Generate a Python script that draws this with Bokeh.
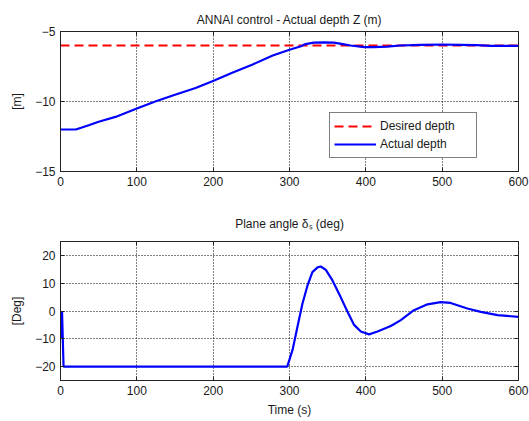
from bokeh.plotting import figure
from bokeh.layouts import column
from bokeh.models import Range1d, FixedTicker, Legend, LegendItem, LinearAxis
from bokeh.embed import file_html
from bokeh.resources import INLINE

# ---- data ----
t_depth = [0, 20, 37, 50, 72, 100, 125, 151, 177, 199, 225, 251, 278, 300, 315, 321, 332,
           345, 358, 370, 380, 398, 410, 428, 445, 472, 500, 524, 545, 564, 600]
z_actual = [-12.0, -12.0, -11.7, -11.45, -11.1, -10.5, -9.98, -9.5, -9.03, -8.55, -7.95, -7.37,
            -6.72, -6.3, -6.05, -5.9, -5.79, -5.77, -5.8, -5.9, -6.0, -6.12, -6.12, -6.08, -6.0,
            -5.95, -5.93, -5.95, -5.98, -6.02, -6.02]
t_desired = [0, 600]
z_desired = [-6.0, -6.0]

t_angle = [0, 1, 2, 4, 100, 200, 297, 304, 310.5, 317, 323.6, 330, 336.7, 341, 347.6, 356.3,
           367, 376, 384.6, 393.4, 404.3, 415.3, 432.7, 445.8, 463, 480.8, 498, 511, 533,
           550.6, 572.5, 600]
d_angle = [0, -10, 0, -20, -20, -20, -20, -14, -5.6, 2.7, 9.2, 14, 15.7, 16, 14.8, 11,
           5, -0.3, -5, -7.4, -8.4, -7.4, -5.4, -3.3, 0.3, 2.4, 3.2, 2.9, 0.9,
           -0.3, -1.5, -2.1]

x_ticks = [0, 100, 200, 300, 400, 500, 600]
y_ticks_top = [-15, -10, -5]
y_ticks_bot = [-20, -10, 0, 10, 20]

FONT = "Liberation Sans"
TXT = "#1a1a1a"
EDGE = "#222222"


def style_axis(ax, labels=True):
    ax.major_tick_in = 4
    ax.major_tick_out = 0
    ax.minor_tick_line_color = None
    ax.axis_line_color = EDGE
    ax.major_tick_line_color = EDGE
    ax.major_label_text_font = FONT
    ax.axis_label_text_font = FONT
    ax.axis_label_text_font_size = "12px"
    ax.axis_label_text_font_style = "normal"
    ax.axis_label_text_color = TXT
    if labels:
        ax.major_label_text_font_size = "12px"
        ax.major_label_text_color = TXT
        ax.major_label_standoff = 5
    else:
        ax.major_label_text_font_size = "1px"
        ax.major_label_text_color = None
        ax.major_label_standoff = 0


def style(p, yticks):
    p.background_fill_color = "white"
    p.border_fill_color = "white"
    p.outline_line_color = EDGE
    p.outline_line_width = 1
    bottom = p.below[0]
    left = p.left[0]
    style_axis(bottom)
    style_axis(left)
    bottom.ticker = FixedTicker(ticks=x_ticks)
    left.ticker = FixedTicker(ticks=yticks)
    left.axis_label_standoff = 8
    top = LinearAxis(ticker=FixedTicker(ticks=x_ticks))
    style_axis(top, labels=False)
    right = LinearAxis(ticker=FixedTicker(ticks=yticks))
    style_axis(right, labels=False)
    p.add_layout(top, "above")
    p.add_layout(right, "right")
    for g in (p.xgrid, p.ygrid):
        g.grid_line_color = "black"
        g.grid_line_dash = "1 2"
        g.grid_line_width = 1
        g.grid_line_alpha = 1.0
    return bottom, left


def style_title(p, text, standoff):
    p.title.text = text
    p.title.align = "center"
    p.title.text_font = FONT
    p.title.text_font_size = "12px"
    p.title.text_font_style = "normal"
    p.title.text_color = TXT
    p.title.standoff = standoff


# ---- top ----
p1 = figure(width=529, height=200, output_backend="svg", toolbar_location=None,
            x_range=Range1d(0, 600), y_range=Range1d(-15, -5),
            min_border_left=60, min_border_right=11, min_border_top=31, min_border_bottom=29)
style_title(p1, "ANNAI control - Actual depth Z (m)", 10)
b1, l1 = style(p1, y_ticks_top)
l1.axis_label = "[m]"

r_des = p1.line(t_desired, z_desired, line_color="#ff0000", line_width=2, line_dash="9 5")
r_act = p1.line(t_depth, z_actual, line_color="#0000ff", line_width=2.2)

legend = Legend(items=[LegendItem(label="Desired depth", renderers=[r_des]),
                       LegendItem(label="Actual depth", renderers=[r_act])],
                location=(269, 13))
legend.border_line_color = "black"
legend.border_line_width = 1
legend.background_fill_color = "white"
legend.background_fill_alpha = 1
legend.label_text_font = FONT
legend.label_text_font_size = "12px"
legend.label_text_color = TXT
legend.glyph_width = 42
legend.glyph_height = 18
legend.label_height = 18
legend.label_standoff = 4
legend.label_width = 92
legend.padding = 4
legend.spacing = 0
legend.margin = 0
p1.add_layout(legend, "center")

# ---- bottom ----
p2 = figure(width=529, height=219, output_backend="svg", toolbar_location=None,
            x_range=Range1d(0, 600), y_range=Range1d(-25, 25),
            min_border_left=60, min_border_right=11, min_border_top=41, min_border_bottom=38)
style_title(p2, "Plane angle δₛ (deg)", 21)
b2, l2 = style(p2, y_ticks_bot)
l2.axis_label = "[Deg]"
b2.axis_label = "Time (s)"
b2.axis_label_standoff = 5

p2.line(t_angle, d_angle, line_color="#0000ff", line_width=2.2)

layout = column(p1, p2, spacing=0)
open("out.html", "w").write(file_html(layout, INLINE))
